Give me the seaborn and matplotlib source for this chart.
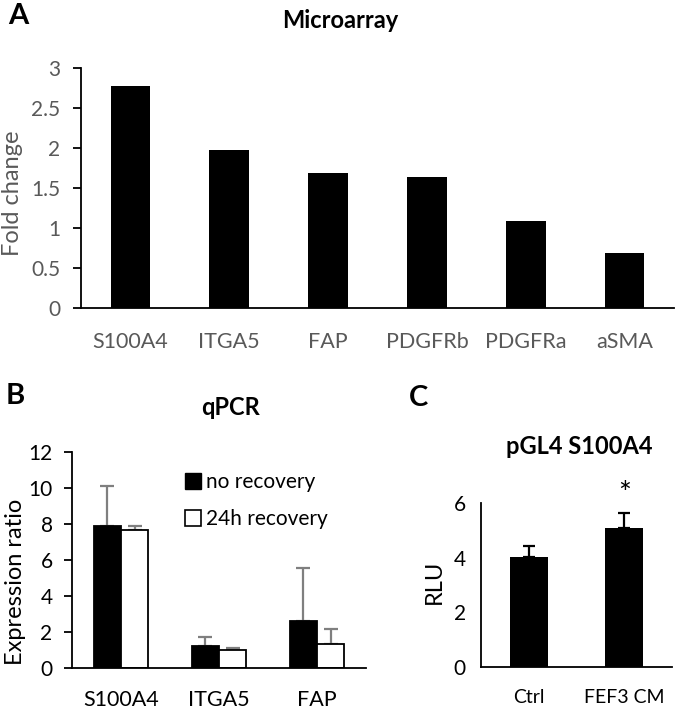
import numpy as np
import pandas as pd
import matplotlib
matplotlib.use('Agg')
import matplotlib.pyplot as plt
import seaborn as sns
from matplotlib.lines import Line2D

# ------------------------------
# Data
# ------------------------------
array_genes = ['S100A4', 'ITGA5', 'FAP', 'PDGFRb', 'PDGFRa', 'aSMA']
array_fold = [2.77, 1.98, 1.69, 1.64, 1.09, 0.69]

qpcr_genes = ['S100A4', 'ITGA5', 'FAP']
qpcr_conditions = ['no recovery', '24h recovery']
qpcr_no_rec = [7.9, 1.2, 2.6]
qpcr_no_rec_err = [2.2, 0.5, 2.95]
qpcr_24h = [7.68, 1.02, 1.36]
qpcr_24h_err = [0.22, 0.08, 0.8]

luc_groups = ['Ctrl', 'FEF3 CM']
luc_rlu = [4.01, 5.09]
luc_err = [0.41, 0.54]

# ------------------------------
# Style
# ------------------------------
sns.set_theme(style='ticks')
plt.rcParams['font.family'] = ['Lato', 'DejaVu Sans']
plt.rcParams['axes.linewidth'] = 1.3
plt.rcParams['text.color'] = 'black'
plt.rcParams['axes.labelcolor'] = 'black'
plt.rcParams['xtick.color'] = 'black'
plt.rcParams['ytick.color'] = 'black'
plt.rcParams['axes.edgecolor'] = 'black'

W, H = 676, 711
fig = plt.figure(figsize=(W / 100, H / 100), dpi=100)


def box(l, r, b, t):
    # pixel box -> figure fraction
    return [l / W, 1 - b / H, (r - l) / W, (b - t) / H]


ax_a = fig.add_axes(box(81, 674, 308, 68))
ax_b = fig.add_axes(box(72, 366, 668, 452))
ax_c = fig.add_axes(box(481, 672, 667, 503))

grey = '#595959'
tick_fs = 15

# ------------------------------
# A: Microarray
# ------------------------------
sns.barplot(x=array_genes, y=array_fold, color='black', saturation=1,
            width=0.4, ax=ax_a, linewidth=0)
ax_a.set_xlim(-0.5, len(array_genes) - 0.5)
ax_a.set_ylim(0, 3)
ax_a.set_yticks(np.arange(0, 3.01, 0.5))
ax_a.set_yticklabels(['0', '0.5', '1', '1.5', '2', '2.5', '3'])
ax_a.tick_params(axis='y', length=6, width=1.3, labelcolor=grey, labelsize=tick_fs, pad=9)
ax_a.tick_params(axis='x', length=0, labelcolor=grey, labelsize=15.5, pad=17)
ax_a.set_ylabel('Fold change', color=grey, fontsize=17)
ax_a.set_xlabel('')
ax_a.yaxis.set_label_coords(-0.098, 0.48)
sns.despine(ax=ax_a)

# ------------------------------
# B: qPCR
# ------------------------------
df_b = pd.DataFrame({
    'gene': qpcr_genes * 2,
    'cond': [qpcr_conditions[0]] * 3 + [qpcr_conditions[1]] * 3,
    'val': qpcr_no_rec + qpcr_24h,
})
err_b = {qpcr_conditions[0]: qpcr_no_rec_err, qpcr_conditions[1]: qpcr_24h_err}
sns.barplot(data=df_b, x='gene', y='val', hue='cond', palette=['black', 'white'],
            saturation=1, edgecolor='black', linewidth=1.3, width=0.56,
            errorbar=None, legend=False, ax=ax_b)
for cond, cont in zip(qpcr_conditions, ax_b.containers):
    xs = [p.get_x() + p.get_width() / 2 for p in cont]
    ys = [p.get_height() for p in cont]
    errs = err_b[cond]
    ax_b.errorbar(xs, ys, yerr=[np.zeros(len(errs)), errs], fmt='none',
                  ecolor='#7f7f7f', elinewidth=1.6, capsize=5, capthick=1.6, zorder=0)
ax_b.set_xlim(-0.5, len(qpcr_genes) - 0.5)
ax_b.set_ylim(0, 12)
ax_b.set_yticks(range(0, 13, 2))
ax_b.tick_params(axis='y', length=6, width=1.3, labelsize=tick_fs, pad=8)
ax_b.tick_params(axis='x', length=0, labelsize=15.5, pad=16)
ax_b.set_ylabel('Expression ratio', fontsize=17)
ax_b.set_xlabel('')
ax_b.yaxis.set_label_coords(-0.155, 0.40)
sns.despine(ax=ax_b)
handles = [Line2D([], [], marker='s', ls='', mfc='black', mec='black', ms=11),
           Line2D([], [], marker='s', ls='', mfc='white', mec='black', ms=11, mew=1.2)]
ax_b.legend(handles, qpcr_conditions, loc='upper left', bbox_to_anchor=(0.355, 0.955),
            frameon=False, fontsize=tick_fs, handlelength=0.6, handletextpad=0.3,
            labelspacing=0.8, borderpad=0)

# ------------------------------
# C: luciferase
# ------------------------------
sns.barplot(x=luc_groups, y=luc_rlu, color='black', saturation=1,
            width=0.4, ax=ax_c, linewidth=0)
cont = ax_c.containers[0]
xs = [p.get_x() + p.get_width() / 2 for p in cont]
ax_c.errorbar(xs, luc_rlu, yerr=[np.zeros(len(luc_err)), luc_err], fmt='none',
              ecolor='black', elinewidth=1.6, capsize=4.5, capthick=1.6, zorder=0)
ax_c.text(xs[1], luc_rlu[1] + luc_err[1] + 0.7, '*', ha='center', va='center', fontsize=22)
ax_c.set_xlim(-0.5, len(luc_groups) - 0.5)
ax_c.set_ylim(0, 6)
ax_c.set_yticks([0, 2, 4, 6])
ax_c.tick_params(axis='y', length=0, labelsize=tick_fs, pad=11)
ax_c.tick_params(axis='x', length=0, labelsize=14, pad=16)
ax_c.set_ylabel('RLU', fontsize=17)
ax_c.set_xlabel('')
ax_c.yaxis.set_label_coords(-0.19, 0.52)
sns.despine(ax=ax_c)

# ------------------------------
# Titles and panel letters
# ------------------------------
fig.text(340 / W, 1 - 20 / H, 'Microarray', ha='center', va='center', fontsize=17, fontweight='bold')
fig.text(230 / W, 1 - 407 / H, 'qPCR', ha='center', va='center', fontsize=17, fontweight='bold')
fig.text(579 / W, 1 - 447 / H, 'pGL4 S100A4', ha='center', va='center', fontsize=17, fontweight='bold')
fig.text(18 / W, 1 - 16 / H, 'A', ha='center', va='center', fontsize=21, fontweight='bold')
fig.text(15 / W, 1 - 396 / H, 'B', ha='center', va='center', fontsize=21, fontweight='bold')
fig.text(418 / W, 1 - 398 / H, 'C', ha='center', va='center', fontsize=21, fontweight='bold')

fig.savefig('out.png', dpi=100)
